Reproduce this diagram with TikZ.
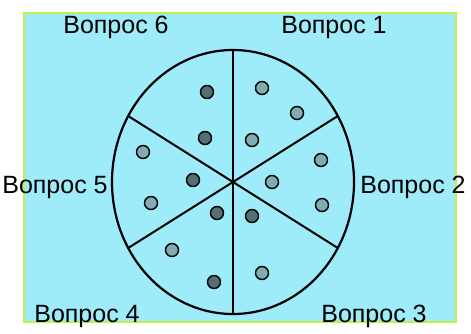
\documentclass[tikz,border=0pt]{standalone}
\usepackage{fontspec}
\setmainfont{Liberation Sans}
\usepackage{xcolor}
\usepackage{tikz}
\usetikzlibrary{positioning, calc}

\definecolor{sky}{RGB}{158,236,249}
\definecolor{lime}{RGB}{196,240,70}
\definecolor{dotdark}{RGB}{84,112,118}
\definecolor{dotlight}{RGB}{128,172,178}

\begin{document}
\begin{tikzpicture}[
        x=1pt, y=-1pt,
        frame/.style={draw=lime, line width=2pt, fill=sky},
        rim/.style={draw=black, line width=2.2pt},
        spoke/.style={draw=black, line width=2pt},
        darkdot/.style={circle, draw=black, line width=1.4pt, fill=dotdark, minimum size=13pt, inner sep=0pt},
        lightdot/.style={circle, draw=black, line width=1.4pt, fill=dotlight, minimum size=13pt, inner sep=0pt},
        question/.style={anchor=base, inner sep=0pt, font=\fontsize{25}{30}\selectfont, text=black}
    ]
        \fill[white] (0,0) rectangle (471,333);
        \useasboundingbox (0,0) rectangle (471,333);
        \draw[frame] (24,13) rectangle (456,322);

        % the pie
        \coordinate (c) at (233,182);
        \draw[rim] (c) ellipse (121pt and 132pt);
        \foreach \a in {30,90,150,210,270,330} {
            \coordinate (rim\a) at ($(c)+(\a:121pt and 132pt)$);
            \draw[spoke] (c) -- (rim\a);
        }

        % dots in the pie
        \foreach \x/\y [count=\i] in {207/92, 205/138, 193/180, 217/213, 252/216, 214/282}
            \node[darkdot] (dd\i) at (\x,\y) {};
        \foreach \x/\y [count=\i] in {262/88, 297/113, 252/140, 143/152, 151/203, 321/160, 272/182, 322/205, 172/250, 262/273}
            \node[lightdot] (ld\i) at (\x,\y) {};

        % questions round it
        \node[question] (q6) at (116,33) {Вопрос 6};
        \node[question] (q1) at (334,33) {Вопрос 1};
        \node[question] (q5) at (55,193) {Вопрос 5};
        \node[question] (q2) at (413,193) {Вопрос 2};
        \node[question] (q4) at (87,322) {Вопрос 4};
        \node[question] (q3) at (374,322) {Вопрос 3};
    \end{tikzpicture}
\end{document}
